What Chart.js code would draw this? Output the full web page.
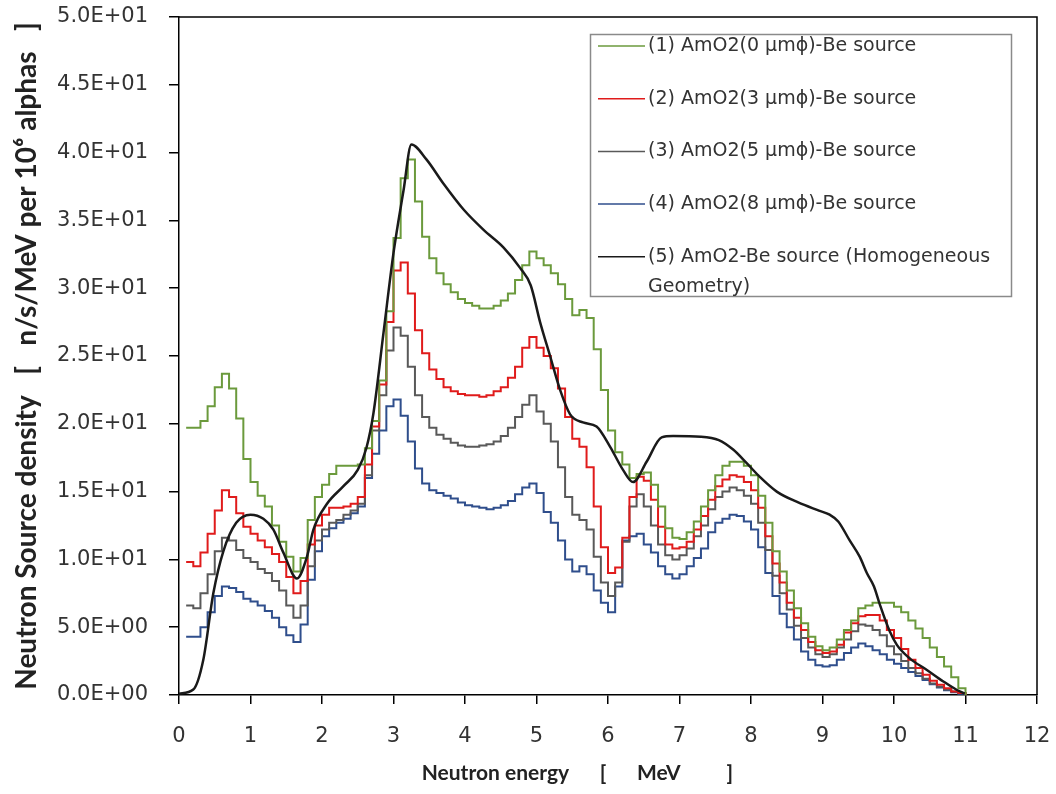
<!DOCTYPE html>
<html>
<head>
<meta charset="utf-8">
<title>Neutron source density</title>
<script src="https://cdn.jsdelivr.net/npm/chart.js@4.4.1/dist/chart.umd.min.js"></script>
<style>
  html, body { margin: 0; padding: 0; background: #fff; }
  #grafico { display: block; }
</style>
</head>
<body>
<canvas id="grafico" width="1056" height="794"></canvas>
<script>
// left edge of each 0.1 MeV bin (last entry closes the histogram)
const binEdges = [
  0.1, 0.2, 0.3, 0.4, 0.5, 0.6, 0.7, 0.8, 0.9, 1.0,
  1.1, 1.2, 1.3, 1.4, 1.5, 1.6, 1.7, 1.8, 1.9, 2.0,
  2.1, 2.2, 2.3, 2.4, 2.5, 2.6, 2.7, 2.8, 2.9, 3.0,
  3.1, 3.2, 3.3, 3.4, 3.5, 3.6, 3.7, 3.8, 3.9, 4.0,
  4.1, 4.2, 4.3, 4.4, 4.5, 4.6, 4.7, 4.8, 4.9, 5.0,
  5.1, 5.2, 5.3, 5.4, 5.5, 5.6, 5.7, 5.8, 5.9, 6.0,
  6.1, 6.2, 6.3, 6.4, 6.5, 6.6, 6.7, 6.8, 6.9, 7.0,
  7.1, 7.2, 7.3, 7.4, 7.5, 7.6, 7.7, 7.8, 7.9, 8.0,
  8.1, 8.2, 8.3, 8.4, 8.5, 8.6, 8.7, 8.8, 8.9, 9.0,
  9.1, 9.2, 9.3, 9.4, 9.5, 9.6, 9.7, 9.8, 9.9, 10.0,
  10.1, 10.2, 10.3, 10.4, 10.5, 10.6, 10.7, 10.8, 10.9, 11.0
];

// (1) 0 um
const serie0um = [
  19.7, 19.7, 20.2, 21.3, 22.7, 23.7, 22.6, 20.4, 17.4, 15.7,
  14.7, 13.9, 12.5, 11.3, 10.2, 9.1, 10.1, 12.9, 14.6, 15.5,
  16.3, 16.9, 16.9, 16.9, 17.0, 18.2, 20.2, 23.2, 28.3, 33.7,
  38.1, 39.5, 36.4, 33.8, 32.2, 31.1, 30.3, 29.7, 29.2, 28.9,
  28.7, 28.5, 28.5, 28.7, 29.1, 29.6, 30.6, 31.7, 32.7, 32.2,
  31.7, 31.1, 30.3, 29.2, 28.0, 28.4, 27.8, 25.5, 22.5, 19.5,
  17.9, 17.0, 16.0, 16.3, 16.4, 15.5, 13.9, 12.3, 11.6, 11.5,
  12.0, 12.8, 13.9, 15.1, 16.2, 16.9, 17.2, 17.2, 16.9, 16.2,
  14.7, 12.7, 10.6, 9.1, 7.7, 6.4, 5.3, 4.3, 3.6, 3.3,
  3.5, 4.1, 4.8, 5.5, 6.4, 6.6, 6.8, 6.8, 6.8, 6.5,
  6.1, 5.5, 4.9, 4.2, 3.5, 2.8, 2.1, 1.3, 0.5, 0
];

// (2) 3 um
const serie3um = [
  9.8, 9.5, 10.5, 11.9, 13.6, 15.1, 14.6, 13.4, 12.4, 11.9,
  11.4, 10.9, 10.4, 9.8, 8.7, 7.5, 8.4, 11.1, 12.5, 13.3,
  13.8, 13.8, 13.9, 14.1, 14.6, 17.0, 19.8, 22.9, 27.5, 31.3,
  31.9, 29.6, 26.9, 25.2, 24.0, 23.3, 22.7, 22.4, 22.2, 22.1,
  22.1, 22.0, 22.1, 22.4, 22.7, 23.4, 24.2, 25.6, 26.4, 25.6,
  25.0, 24.1, 22.6, 20.5, 18.9, 18.3, 16.8, 13.9, 10.9, 9.0,
  9.4, 11.6, 14.6, 16.1, 15.8, 14.4, 12.4, 11.1, 10.8, 10.9,
  11.3, 12.2, 13.2, 14.4, 15.4, 15.9, 16.2, 16.1, 15.7, 15.1,
  13.8, 11.7, 9.7, 8.3, 6.8, 5.7, 4.8, 3.9, 3.3, 3.1,
  3.2, 3.7, 4.6, 5.3, 5.8, 5.9, 5.9, 5.5, 4.8, 4.2,
  3.4, 2.6, 2.0, 1.5, 1.05, 0.75, 0.5, 0.25, 0.15, 0
];

// (3) 5 um
const serie5um = [
  6.6, 6.4, 7.5, 8.9, 10.6, 11.6, 11.4, 10.7, 10.1, 9.8,
  9.3, 9.0, 8.4, 7.7, 6.6, 5.7, 6.6, 9.5, 11.4, 12.2,
  12.7, 12.9, 13.3, 13.6, 14.1, 16.2, 19.5, 22.1, 25.4, 27.1,
  26.5, 24.2, 22.1, 20.5, 19.7, 19.2, 18.9, 18.6, 18.4, 18.3,
  18.3, 18.4, 18.5, 18.7, 19.1, 19.7, 20.5, 21.4, 22.1, 20.9,
  20.0, 18.7, 16.8, 14.6, 13.3, 12.9, 12.2, 10.2, 8.3, 7.3,
  8.3, 11.3, 13.9, 14.8, 13.9, 12.5, 11.1, 10.3, 10.0, 10.3,
  10.8, 11.7, 12.5, 13.7, 14.6, 15.0, 15.3, 15.1, 14.7, 14.1,
  12.7, 10.7, 8.8, 7.5, 6.3, 5.1, 4.2, 3.5, 3.0, 2.8,
  3.0, 3.5, 4.1, 4.7, 5.2, 5.1, 4.8, 4.4, 3.6, 3.0,
  2.5, 2.0, 1.6, 1.2, 0.85, 0.6, 0.4, 0.25, 0.15, 0
];

// (4) 8 um
const serie8um = [
  4.3, 4.3, 5.0, 6.1, 7.3, 8.0, 7.9, 7.6, 7.1, 6.9,
  6.6, 6.2, 5.7, 5.0, 4.4, 3.9, 5.2, 8.5, 10.6, 11.7,
  12.3, 12.7, 13.0, 13.4, 13.9, 16.0, 17.8, 19.5, 21.3, 21.8,
  20.6, 18.7, 16.7, 15.6, 15.1, 14.9, 14.7, 14.5, 14.2, 14.0,
  13.9, 13.8, 13.7, 13.8, 14.0, 14.3, 14.8, 15.3, 15.6, 14.9,
  13.5, 12.7, 11.4, 10.0, 9.1, 9.5, 8.9, 7.7, 6.8, 6.1,
  8.0, 11.4, 11.7, 11.9, 11.1, 10.5, 9.5, 8.9, 8.6, 8.9,
  9.5, 10.1, 10.8, 12.0, 12.7, 13.0, 13.3, 13.2, 12.8, 12.2,
  10.9, 9.0, 7.3, 6.0, 5.0, 4.1, 3.2, 2.6, 2.2, 2.1,
  2.2, 2.6, 3.1, 3.5, 3.8, 3.6, 3.3, 3.0, 2.6, 2.3,
  2.0, 1.7, 1.4, 1.1, 0.8, 0.55, 0.35, 0.2, 0.1, 0
];

// (5) homogeneous geometry, smooth curve
const homoEnergy = [
  0, 0.2, 0.34, 0.48, 0.62, 0.8, 1.0, 1.18, 1.32, 1.46,
  1.65, 1.79, 1.88, 2.07, 2.3, 2.5, 2.62, 2.72, 2.86, 3.0,
  3.14, 3.25, 3.46, 3.7, 3.98, 4.26, 4.54, 4.77, 4.92, 5.05,
  5.19, 5.33, 5.47, 5.65, 5.84, 6.03, 6.21, 6.35, 6.54, 6.75,
  6.91, 7.3, 7.55, 7.75, 7.94, 8.12, 8.36, 8.66, 8.95, 9.1,
  9.22, 9.38, 9.52, 9.62, 9.72, 9.8, 9.94, 10.04, 10.22, 10.46,
  10.69, 10.88, 10.99
];
const homoDensity = [
  0.1, 0.4, 2.6, 7.5, 10.6, 12.7, 13.3, 13.0, 12.2, 10.5,
  8.6, 10.2, 12.2, 14.1, 15.4, 16.6, 18.2, 20.8, 26.7, 32.6,
  37.2, 40.6, 39.5, 37.7, 35.8, 34.3, 33.0, 31.5, 30.2, 27.5,
  25.0, 22.5, 20.7, 20.1, 19.8, 18.3, 16.6, 15.7, 17.2, 19.0,
  19.1, 19.05, 18.8, 18.1, 17.1, 16.1, 15.0, 14.2, 13.6, 13.3,
  12.8, 11.4, 10.2, 9.0, 8.0, 6.7, 4.7, 3.7, 2.7, 1.85,
  1.0, 0.37, 0.1
];

const seriesNames = [
  '(1) AmO2(0 μmϕ)-Be source',
  '(2) AmO2(3 μmϕ)-Be source',
  '(3) AmO2(5 μmϕ)-Be source',
  '(4) AmO2(8 μmϕ)-Be source',
  '(5) AmO2-Be source (Homogeneous\nGeometry)'
];
const seriesColors = ['#6b9a3c', '#e01b1b', '#595959', '#2f4e8c', '#1a1a1a'];

const xTickValues = [0, 1, 2, 3, 4, 5, 6, 7, 8, 9, 10, 11, 12];
const yTickValues = [0, 5, 10, 15, 20, 25, 30, 35, 40, 45, 50];

function formatoCientifico(v) {
    if (v === 0) return '0.0E+00';
    const exp = Math.floor(Math.log10(v));
    const mant = v / Math.pow(10, exp);
    return mant.toFixed(1) + 'E+' + String(exp).padStart(2, '0');
}

function pasos(valores) {
    return binEdges.map((x, i) => ({ x: x, y: valores[i] }));
}

// sin relleno automatico para las etiquetas: el area se fija con layout.padding
function sinRelleno(s) {
    s.paddingTop = 0;
    s.paddingBottom = 0;
    s.paddingLeft = 0;
    s.paddingRight = 0;
}

// marco superior y derecho del area de trazado
const marcoPlugin = {
    id: 'marco',
    afterDraw(chart) {
        const { ctx, chartArea: a } = chart;
        ctx.save();
        ctx.strokeStyle = '#000';
        ctx.lineWidth = 1.5;
        ctx.beginPath();
        ctx.moveTo(a.left, a.top);
        ctx.lineTo(a.right, a.top);
        ctx.lineTo(a.right, a.bottom);
        ctx.stroke();
        ctx.restore();
    }
};

// leyenda con recuadro dentro del grafico
const leyendaPlugin = {
    id: 'leyendaRecuadro',
    afterDraw(chart) {
        const ctx = chart.ctx;
        ctx.save();
        ctx.fillStyle = '#fff';
        ctx.fillRect(590, 34, 422, 263);
        ctx.strokeStyle = '#8a8a8a';
        ctx.lineWidth = 1.5;
        ctx.strokeRect(590.5, 34.5, 421, 262);

        ctx.font = '19px "DejaVu Sans"';
        ctx.textBaseline = 'middle';
        ctx.textAlign = 'left';
        chart.data.datasets.forEach((ds, i) => {
            const y = 46 + i * 52.7;
            ctx.strokeStyle = ds.borderColor;
            ctx.lineWidth = 1.5;
            ctx.beginPath();
            ctx.moveTo(598, y);
            ctx.lineTo(645, y);
            ctx.stroke();
            ctx.fillStyle = '#333';
            ds.label.split('\n').forEach((linea, k) => {
                ctx.fillText(linea, 648, y + k * 30);
            });
        });
        ctx.restore();
    }
};

const datasets = [serie0um, serie3um, serie5um, serie8um].map((serie, i) => ({
    label: seriesNames[i],
    data: pasos(serie),
    borderColor: seriesColors[i],
    borderWidth: 2,
    stepped: true,
    pointRadius: 0,
    fill: false
}));

datasets.push({
    label: seriesNames[4],
    data: homoEnergy.map((x, i) => ({ x: x, y: homoDensity[i] })),
    borderColor: seriesColors[4],
    borderWidth: 2.5,
    cubicInterpolationMode: 'monotone',
    pointRadius: 0,
    fill: false,
    order: -1
});

new Chart(document.getElementById('grafico').getContext('2d'), {
    type: 'line',
    data: { datasets: datasets },
    options: {
        responsive: false,
        animation: false,
        devicePixelRatio: 1,
        layout: { padding: { top: 17, right: 19, left: 0, bottom: 0 } },
        plugins: {
            legend: { display: false },
            tooltip: { enabled: false }
        },
        scales: {
            x: {
                type: 'linear',
                min: 0,
                max: 12,
                afterBuildTicks: s => { s.ticks = xTickValues.map(v => ({ value: v })); },
                afterFit: s => { s.height = 99; sinRelleno(s); },
                ticks: {
                    font: { family: 'DejaVu Sans', size: 21 },
                    color: '#333',
                    padding: 20,
                    maxRotation: 0
                },
                grid: { drawOnChartArea: false, tickLength: 9, color: '#000', lineWidth: 1.5 },
                border: { color: '#000', width: 1.5 },
                title: {
                    display: true,
                    text: 'Neutron energy      [      MeV         ]            ',
                    font: { family: 'Lato', weight: 'bold', size: 21 },
                    color: '#222',
                    padding: { top: 0, bottom: 8 }
                }
            },
            y: {
                min: 0,
                max: 50,
                afterBuildTicks: s => { s.ticks = yTickValues.map(v => ({ value: v })); },
                afterFit: s => { s.width = 179; sinRelleno(s); },
                ticks: {
                    font: { family: 'DejaVu Sans', size: 21 },
                    color: '#333',
                    padding: 21,
                    callback: v => formatoCientifico(v)
                },
                grid: { drawOnChartArea: false, tickLength: 10, color: '#000', lineWidth: 1.5 },
                border: { color: '#000', width: 1.5 },
                title: {
                    display: true,
                    text: 'Neutron Source density   [   n/s/MeV per 10⁶ alphas   ]',
                    font: { family: 'Lato', weight: 'bold', size: 28 },
                    color: '#222',
                    padding: { top: 10, bottom: 0 }
                }
            }
        }
    },
    plugins: [marcoPlugin, leyendaPlugin]
});
</script>
</body>
</html>
